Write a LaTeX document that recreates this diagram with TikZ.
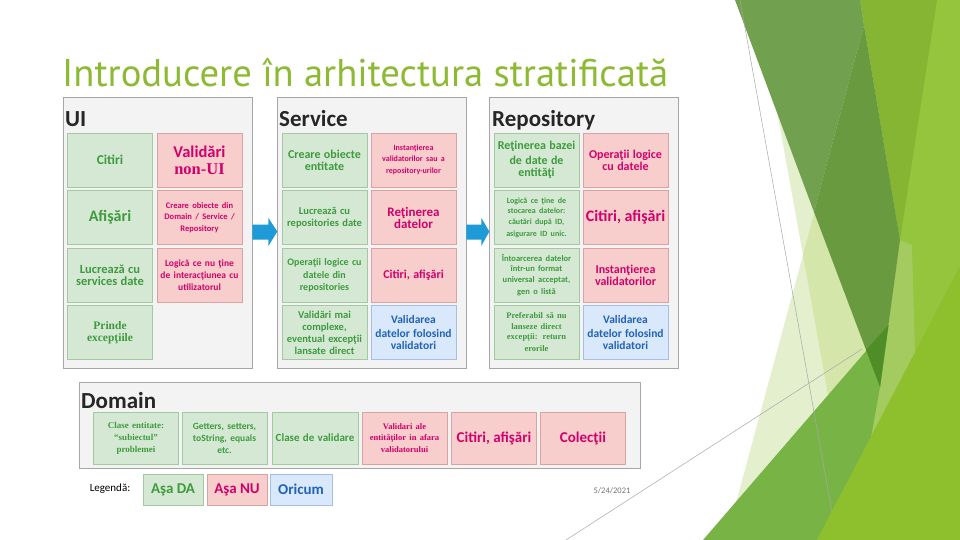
\documentclass[tikz,border=0pt]{standalone}
\usepackage{fontspec}
\setmainfont{Carlito}
\newfontfamily\serifcell{Liberation Serif}
\newfontfamily\titlefont{PT Sans}
\usetikzlibrary{calc}
\definecolor{gfill}{HTML}{D5E8D4}
\definecolor{gline}{HTML}{A3C9A0}
\definecolor{gtext}{HTML}{3D9B3D}
\definecolor{pfill}{HTML}{F8CECC}
\definecolor{pline}{HTML}{D9A3A3}
\definecolor{ptext}{HTML}{D1006C}
\definecolor{bfill}{HTML}{DAE8FC}
\definecolor{bline}{HTML}{A4BFE3}
\definecolor{btext}{HTML}{1F63B5}
\definecolor{panelfill}{HTML}{F3F3F3}
\definecolor{panelline}{HTML}{A6A6A6}
\definecolor{titlegreen}{HTML}{8DBA33}
\definecolor{arrowblue}{HTML}{1E9BD7}
\definecolor{dpale}{HTML}{E3EFCD}
\definecolor{dlight}{HTML}{D4E6A9}
\definecolor{dbright}{HTML}{95C43D}
\definecolor{dyellow}{HTML}{86B533}
\definecolor{dstrip}{HTML}{A3CB5F}
\definecolor{ddusty}{HTML}{71A04E}
\definecolor{ddusty2}{HTML}{699A40}
\definecolor{dmed}{HTML}{78B346}
\definecolor{ddark}{HTML}{4F8E27}
\definecolor{dtb}{HTML}{8EBF2D}
\definecolor{dline}{HTML}{A8A8A8}
\newcommand\fs[2]{\fontsize{#1}{#2}\selectfont}
\tikzset{
  cell/.style={draw, line width=0.6pt, inner xsep=0.5pt, inner ysep=0pt, align=center,
    minimum width=85pt, minimum height=54pt, text width=84pt, font=\bfseries},
  gcell/.style={cell, fill=gfill, draw=gline, text=gtext},
  pcell/.style={cell, fill=pfill, draw=pline, text=ptext},
  bcell/.style={cell, fill=bfill, draw=bline, text=btext},
  panel/.style={draw=panelline, fill=panelfill, line width=0.7pt, inner sep=0pt},
  ptitle/.style={anchor=base west, inner sep=0pt, text=black!85, font=\bfseries\fs{23}{26}},
  blockarrow/.style={fill=arrowblue},
}
\begin{document}
\begin{tikzpicture}[x=1pt,y=-1pt]
\useasboundingbox (0,0) rectangle (960,540);
\fill[white] (0,0) rectangle (960,540);
% decoration on the right
\fill[dpale] (757,0) -- (803,255) -- (726,540) -- (960,540) -- (960,0) -- cycle;
\fill[dlight] (803,255) -- (854,540) -- (960,540) -- (960,0) -- (871,0) -- cycle;
\fill[dbright] (860,0) -- (960,0) -- (960,540) -- (817,540) -- (880,387) -- (900,240) -- cycle;
\fill[dyellow] (860,0) -- (937,0) -- (900,240) -- cycle;
\fill[dstrip] (900,240) -- (880,387) -- (871,437) -- (915,355) -- (912,245) -- cycle;
\fill[ddusty] (735,0) -- (860,0) -- (864,25) -- (814,212) -- cycle;
\fill[ddusty2] (864,25) -- (900,240) -- (880,387) -- (814,212) -- cycle;
\fill[dmed] (703,540) -- (888.5,325) -- (880,387) -- (871,437) -- (817,540) -- cycle;
\fill[ddark] (866,350) -- (888.5,325) -- (880,387) -- cycle;
\draw[dline, line width=0.5pt] (740,0) -- (837,540);
\draw[dline, line width=0.5pt] (566,540) -- (862,349);
\fill[dtb] (817,540) -- (960,266) -- (960,540) -- cycle;

% title
\node[anchor=base west, inner sep=0pt, text=titlegreen] (title) at (62,87)
  {\resizebox{606pt}{!}{\titlefont Introducere în arhitectura stratificată}};

% panels
\node[panel, minimum width=189pt, minimum height=271pt] (ui) at (157.5,232.5) {};
\node[panel, minimum width=189pt, minimum height=271pt] (svc) at (371.5,232.5) {};
\node[panel, minimum width=189pt, minimum height=271pt] (repo) at (583.5,232.5) {};
\node[panel, minimum width=561pt, minimum height=86pt] (dom) at (359.5,425) {};

\node[ptitle] (tui) at (65,127) {UI};
\node[ptitle] (tsvc) at (279,127) {Service};
\node[ptitle] (trepo) at (492,127) {Repository};
\node[ptitle] (tdom) at (81,408) {Domain};

% arrows
\begin{scope}[shift={(ui.east)}]
  \fill[blockarrow] (0,-8) -- (16,-8) -- (16,-14.5) -- (25,-1) -- (16,13.5) -- (16,7) -- (0,7) -- cycle;
\end{scope}
\begin{scope}[shift={(svc.east)}]
  \fill[blockarrow] (0,-8) -- (15,-8) -- (15,-14.5) -- (23,-1) -- (15,13.5) -- (15,7) -- (0,7) -- cycle;
\end{scope}

% UI cells
\node[gcell] (u11) at (110,160) {\fs{13.5}{16}Citiri};
\node[pcell] (u12) at (199.5,160) {\fs{16.5}{18}Validări\\[5pt]{\serifcell non-UI}};
\node[gcell] (u21) at (110,217.5) {\fs{16}{18}Afişări};
\node[pcell] (u22) at (199.5,217.5) {\fs{8.5}{11}Creare obiecte din\\Domain / Service /\\Repository};
\node[gcell] (u31) at (110,275) {\fs{12.5}{15}Lucrează cu\\services date};
\node[pcell] (u32) at (199.5,275) {\fs{9.5}{12}Logică ce nu ţine\\de interacţiunea cu\\utilizatorul};
\node[gcell] (u41) at (110,332.5) {\serifcell\fs{11.5}{14}Prinde\\excepţiile};

% Service cells
\node[gcell] (s11) at (324.5,160) {\fs{12}{15}Creare obiecte\\entitate};
\node[pcell] (s12) at (413.5,160) {\fs{8}{10.5}Instanţierea\\validatorilor sau a\\repository-urilor};
\node[gcell] (s21) at (324.5,217.5) {\fs{10.5}{13.5}Lucrează cu\\repositories date};
\node[pcell] (s22) at (413.5,217.5) {\fs{13}{15.5}Reţinerea\\datelor};
\node[gcell] (s31) at (324.5,275) {\fs{10}{13}Operaţii logice cu\\datele din\\repositories};
\node[pcell] (s32) at (413.5,275) {\fs{12}{14}Citiri, afişări};
\node[gcell] (s41) at (324.5,332.5) {\fs{10.5}{12}Validări mai\\complexe,\\eventual excepţii\\lansate direct};
\node[bcell] (s42) at (413.5,332.5) {\fs{11.5}{13.5}Validarea\\datelor folosind\\validatori};

% Repository cells
\node[gcell] (r11) at (536.5,160) {\fs{12}{14.5}Reţinerea bazei\\de date de\\entităţi};
\node[pcell] (r12) at (625.5,160) {\fs{12}{14.5}Operaţii logice\\cu datele};
\node[gcell] (r21) at (536.5,217.5) {\fs{8}{10.5}Logică ce ţine de\\stocarea datelor:\\căutări după ID,\\asigurare ID unic.};
\node[pcell] (r22) at (625.5,217.5) {\fs{16}{18}Citiri, afişări};
\node[gcell] (r31) at (536.5,275) {\fs{8.5}{10.5}Întoarcerea datelor\\într-un format\\universal acceptat,\\gen o listă};
\node[pcell] (r32) at (625.5,275) {\fs{12}{14.5}Instanţierea\\validatorilor};
\node[gcell] (r41) at (536.5,332.5) {\serifcell\fs{8.5}{10.5}Preferabil să nu\\lanseze direct\\excepţii: return\\erorile};
\node[bcell] (r42) at (625.5,332.5) {\fs{11.5}{13.5}Validarea\\datelor folosind\\validatori};

% Domain cells
\node[gcell, minimum height=52pt] (d1) at (136,438) {\serifcell\fs{9}{12}Clase entitate:\\“subiectul”\\problemei};
\node[gcell, minimum height=52pt] (d2) at (224.5,438) {\fs{9.5}{12}Getters, setters,\\toString, equals\\etc.};
\node[gcell, minimum height=52pt, text width=86pt, inner xsep=0pt] (d3) at (315,438) {\fs{11}{13}Clase de validare};
\node[pcell, minimum height=52pt] (d4) at (404.5,438) {\serifcell\fs{8.5}{11}Validari ale\\entităţilor in afara\\validatorului};
\node[pcell, minimum height=52pt] (d5) at (494,438) {\fs{15}{17}Citiri, afişări};
\node[pcell, minimum height=52pt] (d6) at (583,438) {\fs{15}{17}Colecţii};

% legend
\node[inner sep=0pt, text=black, font=\fs{11}{13}] (leg) at (110,489) {Legendă:};
\node[gcell, minimum width=60pt, text width=59pt, minimum height=31pt] (lg) at (173,489.5) {\fs{15}{17}Aşa DA};
\node[pcell, minimum width=60pt, text width=59pt, minimum height=31pt] (lp) at (237,489.5) {\fs{15}{17}Aşa NU};
\node[bcell, minimum width=62pt, text width=61pt, minimum height=31pt] (lb) at (301,489.5) {\fs{15}{17}Oricum};

% date
\node[inner sep=0pt, text=black!55, font=\fs{8.5}{10}] (date) at (612,491) {5/24/2021};
\end{tikzpicture}
\end{document}
